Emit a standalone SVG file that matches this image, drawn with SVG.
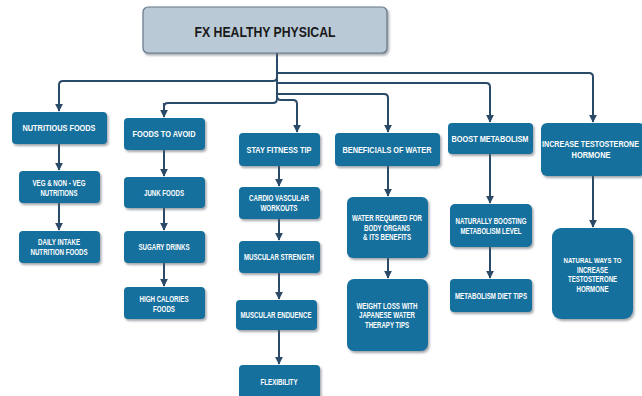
<svg xmlns="http://www.w3.org/2000/svg" width="642" height="396" viewBox="0 0 642 396">
<defs>
<filter id="sh" x="-10%" y="-10%" width="130%" height="140%">
<feDropShadow dx="1.5" dy="2" stdDeviation="1.2" flood-color="#55606a" flood-opacity="0.55"/>
</filter>
<marker id="ah" viewBox="0 0 10 10" refX="9" refY="5" markerWidth="4" markerHeight="4" orient="auto" markerUnits="strokeWidth">
<path d="M0,0 L10,5 L0,10 z" fill="#2a4a68"/>
</marker>
<style>
.b{fill:#15709d;filter:url(#sh);}
.t{fill:#ffffff;font-family:"Liberation Sans",Arial,sans-serif;font-weight:bold;text-anchor:middle;}
.h{font-size:9px;}
.s{font-size:8.5px;}
.n{font-size:8px;}
.c{fill:none;stroke:#2a4a68;stroke-width:2;}
.a{marker-end:url(#ah);}
</style>
</defs>
<rect width="642" height="396" fill="#ffffff"/>
<g id="connectors">
<path class="c" d="M277,53 V99 Q277,103 273,103 H168 Q164,103 164,107 V117"/>
<path class="c a" d="M277,73 H589 Q593,73 593,77 V122"/>
<path class="c a" d="M277,83 H486 Q490,83 490,87 V122"/>
<path class="c a" d="M277,94 H384 Q388,94 388,98 V132"/>
<path class="c a" d="M277,77 Q277,81 273,81 H63 Q59,81 59,85 V111"/>
<path class="c a" d="M277,96 Q277,100 281,100 H293 Q297,100 297,104 V132"/>
<path class="c a" d="M164,103 V117"/>
<path class="c a" d="M59,144 V170"/>
<path class="c a" d="M59,203 V230"/>
<path class="c a" d="M164,150 V176"/>
<path class="c a" d="M164,208 V230"/>
<path class="c a" d="M164,263 V286"/>
<path class="c a" d="M279,166 V186"/>
<path class="c a" d="M279,219 V240"/>
<path class="c a" d="M279,273 V299"/>
<path class="c a" d="M279,330 V364"/>
<path class="c a" d="M388,166 V196"/>
<path class="c a" d="M388,258 V278"/>
<path class="c a" d="M490,154 V203"/>
<path class="c a" d="M490,247 V278"/>
<path class="c a" d="M593,176 V227"/>
</g>
<g id="title">
<rect x="143" y="7" width="244" height="46" rx="5" fill="#b9c9d6" stroke="#66788a" stroke-width="1.2" filter="url(#sh)"/>
<text x="265" y="37" font-family="'Liberation Sans',Arial,sans-serif" font-weight="bold" font-size="15" fill="#1a1a1a" text-anchor="middle" textLength="141" lengthAdjust="spacingAndGlyphs">FX HEALTHY PHYSICAL</text>
</g>
<g id="nutritious-foods">
<rect class="b" x="12" y="112" width="95" height="32" rx="4"/>
<text class="t h" x="59" y="131" textLength="73" lengthAdjust="spacingAndGlyphs">NUTRITIOUS FOODS</text>
</g>
<g id="veg-nonveg">
<rect class="b" x="19" y="171" width="81" height="32" rx="4"/>
<text class="t s" x="59" y="186" textLength="53" lengthAdjust="spacingAndGlyphs">VEG &amp; NON - VEG</text>
<text class="t s" x="59" y="196" textLength="37" lengthAdjust="spacingAndGlyphs">NUTRITIONS</text>
</g>
<g id="daily-intake">
<rect class="b" x="19" y="231" width="81" height="32" rx="4"/>
<text class="t s" x="59" y="245" textLength="42" lengthAdjust="spacingAndGlyphs">DAILY INTAKE</text>
<text class="t s" x="59" y="255" textLength="57" lengthAdjust="spacingAndGlyphs">NUTRITION FOODS</text>
</g>
<g id="foods-to-avoid">
<rect class="b" x="124" y="118" width="81" height="32" rx="4"/>
<text class="t h" x="164" y="137" textLength="63" lengthAdjust="spacingAndGlyphs">FOODS TO AVOID</text>
</g>
<g id="junk-foods">
<rect class="b" x="124" y="177" width="81" height="31" rx="4"/>
<text class="t s" x="164" y="196" textLength="40" lengthAdjust="spacingAndGlyphs">JUNK FOODS</text>
</g>
<g id="sugary-drinks">
<rect class="b" x="124" y="231" width="81" height="32" rx="4"/>
<text class="t s" x="164" y="250" textLength="51" lengthAdjust="spacingAndGlyphs">SUGARY DRINKS</text>
</g>
<g id="high-calories">
<rect class="b" x="124" y="287" width="81" height="32" rx="4"/>
<text class="t s" x="164" y="302" textLength="49" lengthAdjust="spacingAndGlyphs">HIGH CALORIES</text>
<text class="t s" x="164" y="312" textLength="22" lengthAdjust="spacingAndGlyphs">FOODS</text>
</g>
<g id="stay-fitness-tip">
<rect class="b" x="239" y="133" width="81" height="33" rx="4"/>
<text class="t h" x="279" y="153" textLength="65" lengthAdjust="spacingAndGlyphs">STAY FITNESS TIP</text>
</g>
<g id="cardio">
<rect class="b" x="239" y="187" width="81" height="32" rx="4"/>
<text class="t s" x="279" y="201" textLength="60" lengthAdjust="spacingAndGlyphs">CARDIO VASCULAR</text>
<text class="t s" x="279" y="211" textLength="37" lengthAdjust="spacingAndGlyphs">WORKOUTS</text>
</g>
<g id="muscular-strength">
<rect class="b" x="239" y="241" width="81" height="32" rx="4"/>
<text class="t s" x="279" y="260" textLength="70" lengthAdjust="spacingAndGlyphs">MUSCULAR STRENGTH</text>
</g>
<g id="muscular-enduence">
<rect class="b" x="236" y="300" width="81" height="30" rx="4"/>
<text class="t s" x="276" y="318" textLength="71" lengthAdjust="spacingAndGlyphs">MUSCULAR ENDUENCE</text>
</g>
<g id="flexibility">
<rect class="b" x="239" y="365" width="81" height="34" rx="4"/>
<text class="t s" x="279" y="385" textLength="37" lengthAdjust="spacingAndGlyphs">FLEXIBILITY</text>
</g>
<g id="beneficials-of-water">
<rect class="b" x="335" y="133" width="105" height="33" rx="4"/>
<text class="t h" x="387" y="153" textLength="89" lengthAdjust="spacingAndGlyphs">BENEFICIALS OF WATER</text>
</g>
<g id="water-required">
<rect class="b" x="347" y="197" width="81" height="61" rx="6"/>
<text class="t s" x="387" y="221" textLength="70" lengthAdjust="spacingAndGlyphs">WATER REQUIRED FOR</text>
<text class="t s" x="387" y="231" textLength="46" lengthAdjust="spacingAndGlyphs">BODY ORGANS</text>
<text class="t s" x="387" y="240" textLength="48" lengthAdjust="spacingAndGlyphs">&amp; ITS BENEFITS</text>
</g>
<g id="weight-loss">
<rect class="b" x="347" y="279" width="81" height="72" rx="7"/>
<text class="t s" x="387" y="309" textLength="61" lengthAdjust="spacingAndGlyphs">WEIGHT LOSS WITH</text>
<text class="t s" x="387" y="318" textLength="56" lengthAdjust="spacingAndGlyphs">JAPANESE WATER</text>
<text class="t s" x="387" y="328" textLength="44" lengthAdjust="spacingAndGlyphs">THERAPY TIPS</text>
</g>
<g id="boost-metabolism">
<rect class="b" x="448" y="123" width="85" height="31" rx="4"/>
<text class="t h" x="490" y="142" textLength="77" lengthAdjust="spacingAndGlyphs">BOOST METABOLISM</text>
</g>
<g id="naturally-boosting">
<rect class="b" x="450" y="204" width="82" height="43" rx="5"/>
<text class="t s" x="491" y="224" textLength="71" lengthAdjust="spacingAndGlyphs">NATURALLY BOOSTING</text>
<text class="t s" x="491" y="234" textLength="61" lengthAdjust="spacingAndGlyphs">METABOLISM LEVEL</text>
</g>
<g id="metabolism-diet-tips">
<rect class="b" x="450" y="279" width="82" height="33" rx="4"/>
<text class="t s" x="491" y="299" textLength="72" lengthAdjust="spacingAndGlyphs">METABOLISM DIET TIPS</text>
</g>
<g id="increase-testosterone">
<rect class="b" x="541" y="123" width="104" height="53" rx="6"/>
<text class="t h" x="590.5" y="147" textLength="97" lengthAdjust="spacingAndGlyphs">INCREASE TESTOSTERONE</text>
<text class="t h" x="591" y="158" textLength="39" lengthAdjust="spacingAndGlyphs">HORMONE</text>
</g>
<g id="natural-ways">
<rect class="b" x="552" y="228" width="81" height="91" rx="9"/>
<text class="t n" x="592.5" y="263" textLength="58" lengthAdjust="spacingAndGlyphs">NATURAL WAYS TO</text>
<text class="t s" x="592.5" y="273" textLength="31" lengthAdjust="spacingAndGlyphs">INCREASE</text>
<text class="t s" x="592.5" y="282" textLength="49" lengthAdjust="spacingAndGlyphs">TESTOSTERONE</text>
<text class="t s" x="592.5" y="292" textLength="32" lengthAdjust="spacingAndGlyphs">HORMONE</text>
</g>
</svg>
